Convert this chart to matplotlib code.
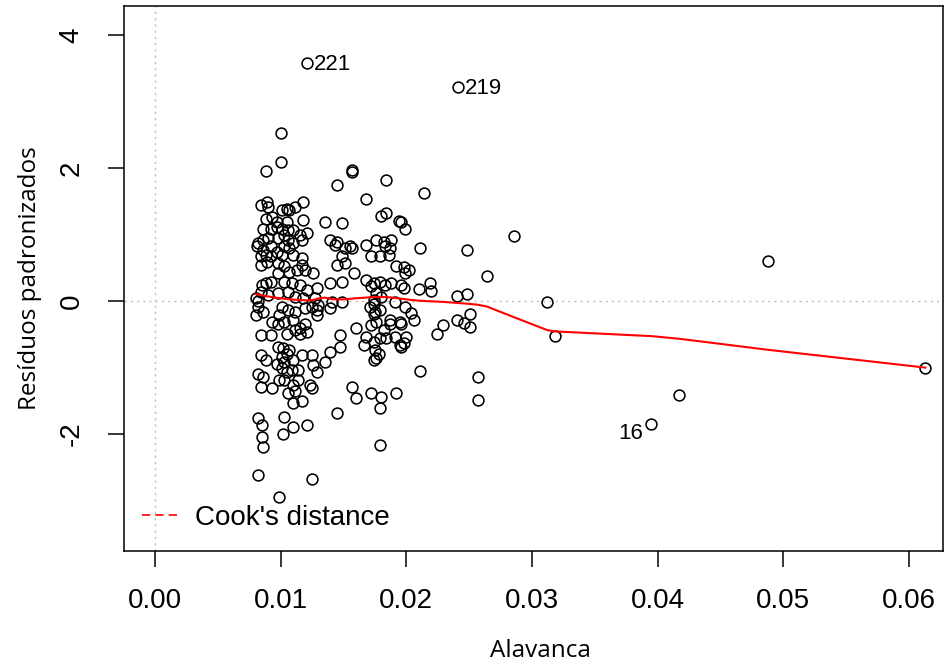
import numpy as np
import matplotlib
matplotlib.use("Agg")
import matplotlib.pyplot as plt

# leverage / standardized residuals (4 clusters)
lev_a = [0.0100, 0.0100, 0.0088, 0.0121,
         0.0084, 0.0089, 0.0090, 0.0101, 0.0105, 0.0107, 0.0111, 0.0118,
         0.0088, 0.0093, 0.0097, 0.0105, 0.0118,
         0.0086, 0.0092, 0.0097, 0.0101, 0.0106, 0.0110, 0.0115, 0.0121,
         0.0082, 0.0086, 0.0090, 0.0098, 0.0103, 0.0106, 0.0110, 0.0117,
         0.0081, 0.0086, 0.0092, 0.0097, 0.0103, 0.0107,
         0.0084, 0.0088, 0.0092, 0.0101, 0.0110, 0.0117,
         0.0084, 0.0089, 0.0098, 0.0103, 0.0117, 0.0119, 0.0126,
         0.0098, 0.0107, 0.0113,
         0.0088, 0.0092, 0.0085, 0.0103, 0.0109, 0.0115, 0.0121, 0.0129,
         0.0084, 0.0090, 0.0098, 0.0106, 0.0111, 0.0118, 0.0127,
         0.0080, 0.0082]
res_a = [2.53, 2.09, 1.95, 3.58,
         1.44, 1.49, 1.42, 1.37, 1.39, 1.37, 1.42, 1.49,
         1.24, 1.27, 1.19, 1.19, 1.22,
         1.09, 1.09, 1.12, 1.09, 1.07, 1.07, 0.99, 1.02,
         0.87, 0.92, 0.94, 0.94, 0.99, 0.92, 0.87, 0.92,
         0.82, 0.77, 0.82, 0.74, 0.82, 0.79,
         0.67, 0.69, 0.67, 0.69, 0.69, 0.64,
         0.54, 0.59, 0.57, 0.52, 0.54, 0.47, 0.42,
         0.42, 0.44, 0.47,
         0.27, 0.29, 0.24, 0.29, 0.27, 0.24, 0.17, 0.19,
         0.14, 0.09, 0.12, 0.14, 0.06, 0.04, 0.04,
         0.05, 0.00]

lev_b = [0.0082, 0.0086, 0.0080, 0.0101, 0.0106, 0.0099, 0.0111, 0.0119, 0.0125, 0.0129,
         0.0093, 0.0103, 0.0098, 0.0110, 0.0111, 0.0115, 0.0121, 0.0115, 0.0119, 0.0105,
         0.0084, 0.0092, 0.0130, 0.0129,
         0.0098, 0.0102, 0.0105, 0.0101, 0.0107, 0.0097, 0.0103, 0.0110, 0.0101, 0.0105,
         0.0109, 0.0114, 0.0084, 0.0088, 0.0082, 0.0086, 0.0084, 0.0093, 0.0099, 0.0103,
         0.0110, 0.0114, 0.0106, 0.0111, 0.0110, 0.0117, 0.0125, 0.0126, 0.0123, 0.0125,
         0.0129, 0.0117,
         0.0082, 0.0085, 0.0085, 0.0086, 0.0103, 0.0102, 0.0110, 0.0121, 0.0082, 0.0125, 0.0099]
res_b = [-0.09, -0.16, -0.21, -0.09, -0.14, -0.21, -0.16, -0.11, -0.09, -0.14,
         -0.31, -0.31, -0.34, -0.29, -0.44, -0.41, -0.46, -0.49, -0.34, -0.49,
         -0.51, -0.51, -0.06, -0.21,
         -0.69, -0.71, -0.79, -0.84, -0.74, -0.94, -0.91, -0.89, -1.01, -1.06,
         -1.04, -1.04, -0.81, -0.89, -1.09, -1.14, -1.29, -1.31, -1.19, -1.19,
         -1.26, -1.19, -1.39, -1.36, -1.54, -1.51, -0.81, -0.96, -1.26, -1.31,
         -1.06, -0.81,
         -1.76, -1.86, -2.04, -2.19, -1.74, -2.00, -1.89, -1.86, -2.62, -2.68, -2.94]

lev_c = [0.0157, 0.0157, 0.0145, 0.0184, 0.0168, 0.0180, 0.0184, 0.0194, 0.0196, 0.0199,
         0.0135, 0.0149, 0.0139, 0.0145, 0.0143, 0.0155, 0.0168, 0.0176, 0.0182, 0.0188,
         0.0183, 0.0187, 0.0172, 0.0179, 0.0186, 0.0192, 0.0151, 0.0157, 0.0149, 0.0145,
         0.0151, 0.0158, 0.0139, 0.0149, 0.0168, 0.0174, 0.0179, 0.0183, 0.0188, 0.0196,
         0.0172, 0.0176, 0.0180, 0.0174, 0.0191, 0.0149, 0.0141, 0.0174, 0.0175, 0.0171,
         0.0139, 0.0174, 0.0179, 0.0187, 0.0195, 0.0160, 0.0168, 0.0166, 0.0172, 0.0176,
         0.0182, 0.0187, 0.0179, 0.0184, 0.0191, 0.0195, 0.0147, 0.0147, 0.0139, 0.0135,
         0.0174, 0.0175, 0.0178, 0.0174, 0.0176, 0.0157, 0.0160, 0.0172, 0.0180, 0.0179,
         0.0192, 0.0145, 0.0179]
res_c = [1.97, 1.94, 1.74, 1.82, 1.54, 1.28, 1.32, 1.21, 1.19, 1.08,
         1.19, 1.17, 0.92, 0.89, 0.84, 0.82, 0.84, 0.92, 0.89, 0.92,
         0.82, 0.79, 0.67, 0.67, 0.69, 0.52, 0.79, 0.79, 0.67, 0.54,
         0.57, 0.42, 0.27, 0.29, 0.32, 0.27, 0.29, 0.24, 0.27, 0.24,
         0.22, 0.12, 0.06, 0.02, -0.01, -0.01, -0.01, -0.04, -0.16, -0.09,
         -0.11, -0.19, -0.14, -0.29, -0.31, -0.41, -0.54, -0.66, -0.36, -0.31,
         -0.44, -0.34, -0.56, -0.56, -0.54, -0.66, -0.51, -0.69, -0.76, -0.91,
         -0.61, -0.74, -0.79, -0.89, -0.86, -1.29, -1.46, -1.39, -1.44, -1.61,
         -1.39, -1.69, -2.17]

lev_d = [0.0214, 0.0211, 0.0248, 0.0198, 0.0202, 0.0199, 0.0219, 0.0220, 0.0210, 0.0198,
         0.0264, 0.0286, 0.0240, 0.0248, 0.0199, 0.0204, 0.0206, 0.0196, 0.0240, 0.0246,
         0.0251, 0.0251, 0.0229, 0.0224, 0.0200, 0.0198, 0.0196, 0.0211, 0.0257, 0.0257,
         0.0312, 0.0318, 0.0241, 0.0395, 0.0417, 0.0488, 0.0613]
res_d = [1.63, 0.79, 0.77, 0.51, 0.47, 0.42, 0.27, 0.15, 0.18, 0.19,
         0.37, 0.98, 0.08, 0.10, -0.09, -0.18, -0.29, -0.34, -0.28, -0.33,
         -0.20, -0.39, -0.36, -0.50, -0.54, -0.63, -0.69, -1.05, -1.14, -1.49,
         -0.01, -0.53, 3.22, -1.85, -1.41, 0.60, -1.01]

# labelled observations
label_ids = ["221", "219", "16"]
label_lev = [0.0121, 0.0241, 0.0395]
label_res = [3.58, 3.22, -1.85]

leverage = np.array(lev_a + lev_b + lev_c + lev_d)
std_resid = np.array(res_a + res_b + res_c + res_d)


def lowess(x, y, f=2 / 3, iters=3):
    # same idea as R's lowess(): local linear fit, tricube weights, bisquare robustness
    order = np.argsort(x, kind="mergesort")
    x = x[order]
    y = y[order]
    n = len(x)
    ns = max(min(int(round(f * n)), n), 2)
    rw = np.ones(n)
    fit = np.zeros(n)
    for it in range(iters + 1):
        for i in range(n):
            d = np.abs(x - x[i])
            h = np.sort(d)[ns - 1]
            w = np.zeros(n)
            inside = d <= 0.999 * h
            w[inside] = (1 - (d[inside] / h) ** 3) ** 3
            w[d <= 0.001 * h] = 1.0
            w = w * rw
            sw = w.sum()
            xm = (w * x).sum() / sw
            ym = (w * y).sum() / sw
            sxx = (w * (x - xm) ** 2).sum()
            if sxx > 1e-14:
                b = (w * (x - xm) * (y - ym)).sum() / sxx
                fit[i] = ym + b * (x[i] - xm)
            else:
                fit[i] = ym
        if it == iters:
            break
        res = y - fit
        cmad = 6 * np.median(np.abs(res))
        u = np.clip(np.abs(res) / cmad, 0, 1)
        rw = (1 - u ** 2) ** 2
    return x, fit


plt.rcParams["font.family"] = ["Liberation Sans", "DejaVu Sans"]

fig = plt.figure(figsize=(9.45, 6.70), dpi=100)
ax = fig.add_axes([124 / 945, 1 - 551 / 670, (943 - 124) / 945, (551 - 6) / 670])

ax.axhline(0, color="#BEBEBE", lw=1.0, linestyle=(0, (1.5, 3)), zorder=1)
ax.axvline(0, color="#BEBEBE", lw=1.0, linestyle=(0, (1.5, 3)), zorder=1)

ax.plot(leverage, std_resid, linestyle="none", marker="o", ms=7.8,
        mfc="none", mec="black", mew=1.15, zorder=3)

xs, ys = lowess(leverage, std_resid)
ax.plot(xs, ys, color="red", lw=1.5, zorder=4)

for lab, lx, ly in zip(label_ids, label_lev, label_res):
    if lx < 0.03:
        ax.annotate(lab, (lx, ly), xytext=(5, -1), textcoords="offset points",
                    ha="left", va="center", fontsize=16)
    else:
        ax.annotate(lab, (lx, ly), xytext=(-6, -7), textcoords="offset points",
                    ha="right", va="center", fontsize=16)

ax.plot([], [], color="red", lw=1.2, linestyle=(0, (5, 3)), label="Cook's distance")
ax.legend(loc="center left", bbox_to_anchor=(18 / 819, 33 / 545), frameon=False,
          fontsize=20, handlelength=1.35, handletextpad=0.55,
          borderpad=0, borderaxespad=0)

ax.set_xlim(-0.002467, 0.0627)
ax.set_ylim(-3.759, 4.436)
ax.set_xticks([0.00, 0.01, 0.02, 0.03, 0.04, 0.05, 0.06])
ax.set_xticklabels(["0.00", "0.01", "0.02", "0.03", "0.04", "0.05", "0.06"])
ax.set_yticks([-2, 0, 2, 4])
ax.set_yticklabels(["-2", "0", "2", "4"])

for sp in ax.spines.values():
    sp.set_linewidth(1.1)
ax.tick_params(axis="both", length=11.5, width=1.1, labelsize=20)
ax.tick_params(axis="x", pad=15)
ax.tick_params(axis="y", pad=17, labelrotation=90)
for t in ax.get_yticklabels():
    t.set_verticalalignment("center")

ax.set_xlabel("Alavanca", fontsize=17.5, family="Open Sans")
ax.set_ylabel("Resíduos padronizados", fontsize=17.5, family="Open Sans")
ax.xaxis.set_label_coords((540 - 124) / 819, -(651 - 551) / 545)
ax.yaxis.set_label_coords(-(124 - 30) / 819, 0.5)
ax.xaxis.label.set_va("center")
ax.yaxis.label.set_va("center")

fig.savefig("out.png", dpi=100)
